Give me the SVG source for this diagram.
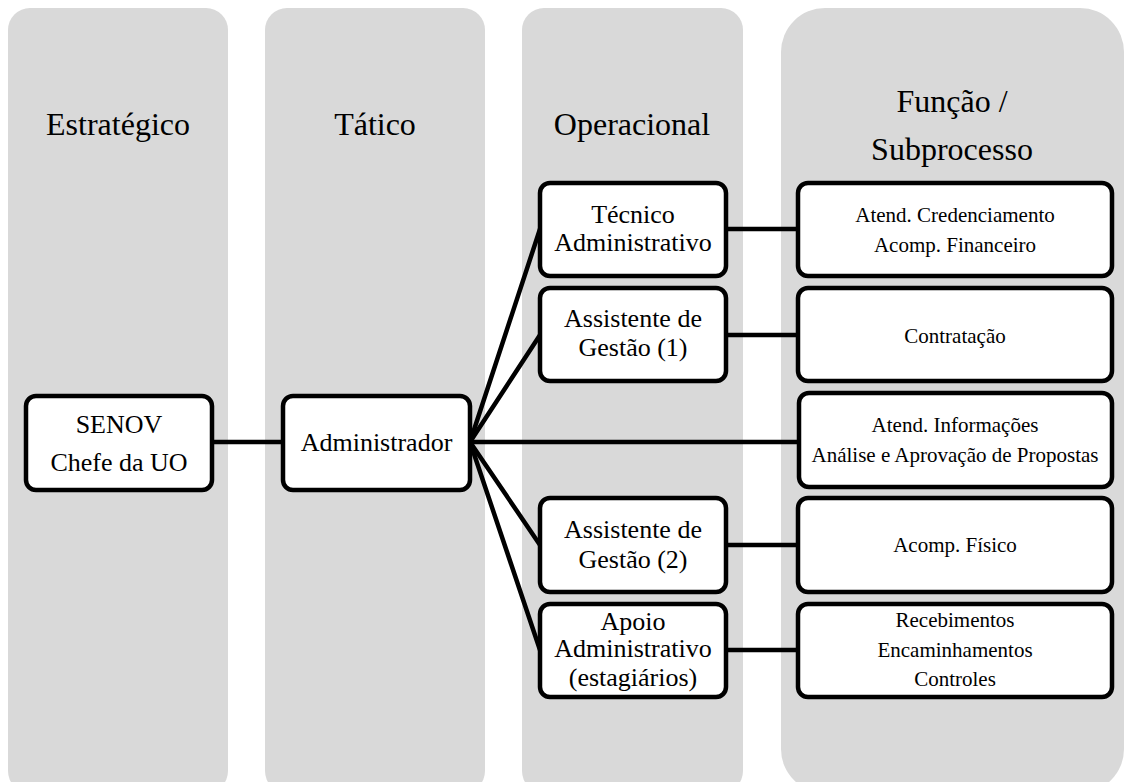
<svg xmlns="http://www.w3.org/2000/svg" width="1127" height="782" viewBox="0 0 1127 782">
  <style>
    .lane { fill: #d9d9d9; }
    .box { fill: #fff; stroke: #000; stroke-width: 4.5; }
    .conn { stroke: #000; stroke-width: 4.5; fill: none; stroke-linecap: round; }
  </style>

  <!-- level lanes -->
  <g id="lanes">
    <rect class="lane" x="8" y="8" width="220" height="785" rx="22"/>
    <rect class="lane" x="265" y="8" width="220" height="785" rx="22"/>
    <rect class="lane" x="522" y="8" width="221" height="785" rx="22"/>
    <rect class="lane" x="781" y="8" width="343" height="785" rx="44"/>
    <g font-family="Liberation Serif" font-size="32" fill="#000" text-anchor="middle">
      <text x="118" y="135">Estratégico</text>
      <text x="375" y="135">Tático</text>
      <text x="632" y="135">Operacional</text>
      <text x="952" y="112">Função /</text>
      <text x="952" y="160">Subprocesso</text>
    </g>
  </g>

  <!-- connectors -->
  <g id="connectors">
    <line class="conn" x1="212" y1="442" x2="283" y2="442"/>
    <line class="conn" x1="470" y1="442" x2="540" y2="229"/>
    <line class="conn" x1="470" y1="442" x2="540" y2="335"/>
    <line class="conn" x1="470" y1="442" x2="799" y2="442"/>
    <line class="conn" x1="470" y1="442" x2="540" y2="545"/>
    <line class="conn" x1="470" y1="442" x2="540" y2="650"/>
    <line class="conn" x1="726" y1="229" x2="798" y2="229"/>
    <line class="conn" x1="726" y1="335" x2="798" y2="335"/>
    <line class="conn" x1="726" y1="545" x2="798" y2="545"/>
    <line class="conn" x1="726" y1="650" x2="798" y2="650"/>
  </g>

  <g font-family="Liberation Serif" font-size="26" fill="#000" text-anchor="middle">
    <!-- strategic -->
    <g id="senov">
      <rect class="box" x="26" y="396" width="186" height="94" rx="10"/>
      <text x="119" y="433">SENOV</text>
      <text x="119" y="471">Chefe da UO</text>
    </g>

    <!-- tactical -->
    <g id="administrador">
      <rect class="box" x="283" y="396" width="187" height="94" rx="10"/>
      <text x="376.5" y="451">Administrador</text>
    </g>

    <!-- operational -->
    <g id="tecnico">
      <rect class="box" x="540" y="183" width="186" height="93" rx="10"/>
      <text x="633" y="223">Técnico</text>
      <text x="633" y="251">Administrativo</text>
    </g>
    <g id="assistente1">
      <rect class="box" x="540" y="288" width="186" height="93" rx="10"/>
      <text x="633" y="327">Assistente de</text>
      <text x="633" y="356">Gestão (1)</text>
    </g>
    <g id="assistente2">
      <rect class="box" x="540" y="498" width="186" height="94" rx="10"/>
      <text x="633" y="538">Assistente de</text>
      <text x="633" y="568">Gestão (2)</text>
    </g>
    <g id="apoio">
      <rect class="box" x="540" y="604" width="186" height="93" rx="10"/>
      <text x="633" y="630">Apoio</text>
      <text x="633" y="657">Administrativo</text>
      <text x="633" y="686">(estagiários)</text>
    </g>
  </g>

  <!-- functions / subprocesses -->
  <g font-family="Liberation Serif" font-size="21" fill="#000" text-anchor="middle">
    <g id="credenciamento">
      <rect class="box" x="798" y="183" width="314" height="93" rx="10"/>
      <text x="955" y="222">Atend. Credenciamento</text>
      <text x="955" y="252">Acomp. Financeiro</text>
    </g>
    <g id="contratacao">
      <rect class="box" x="798" y="288" width="314" height="93" rx="10"/>
      <text x="955" y="343">Contratação</text>
    </g>
    <g id="informacoes">
      <rect class="box" x="799" y="393" width="313" height="94" rx="10"/>
      <text x="955" y="432">Atend. Informações</text>
      <text x="955" y="462">Análise e Aprovação de Propostas</text>
    </g>
    <g id="fisico">
      <rect class="box" x="798" y="498" width="314" height="94" rx="10"/>
      <text x="955" y="552">Acomp. Físico</text>
    </g>
    <g id="recebimentos">
      <rect class="box" x="798" y="604" width="314" height="93" rx="10"/>
      <text x="955" y="627">Recebimentos</text>
      <text x="955" y="657">Encaminhamentos</text>
      <text x="955" y="686">Controles</text>
    </g>
  </g>
</svg>
